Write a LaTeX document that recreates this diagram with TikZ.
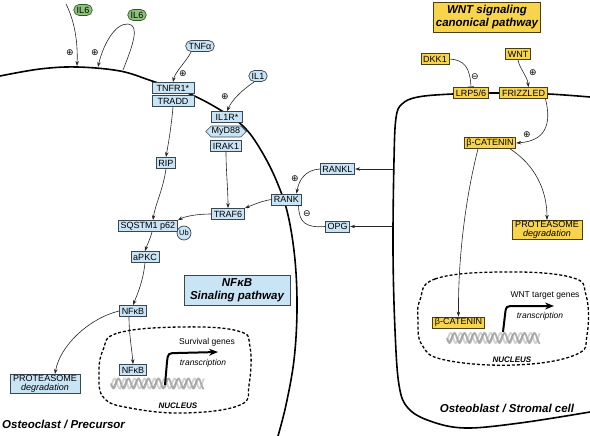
\documentclass[tikz,border=0pt]{standalone}
\usepackage{fontspec}
\setmainfont{Liberation Sans}
\newfontfamily\symfont{DejaVu Sans}
\usetikzlibrary{arrows.meta,shapes.misc,shapes.symbols,calc}
\definecolor{bfill}{HTML}{C9E4F5}
\definecolor{bdraw}{HTML}{3A4650}
\definecolor{yfill}{HTML}{F8D44C}
\definecolor{ydraw}{HTML}{4A3D10}
\definecolor{gfill}{HTML}{8CC27A}
\definecolor{gdraw}{HTML}{2E5A28}
\begin{document}
\begin{tikzpicture}[x=1pt,y=-1pt,
  font=\fontsize{9}{9.5}\selectfont,
  bbox/.style={draw=bdraw,fill=bfill,line width=0.7pt,inner xsep=2.3pt,inner ysep=0.8pt,minimum height=11pt},
  ybox/.style={draw=ydraw,fill=yfill,line width=0.7pt,inner xsep=2.3pt,inner ysep=0.8pt,minimum height=11pt},
  gpill/.style={rounded rectangle,draw=gdraw,fill=gfill,line width=0.7pt,inner xsep=2pt,inner ysep=0.8pt,minimum height=11pt},
  bpill/.style={rounded rectangle,draw=bdraw,fill=bfill,line width=0.7pt,inner xsep=2pt,inner ysep=0.8pt,minimum height=11pt},
  arr/.style={-{Stealth[length=5pt,width=3.5pt]},line width=0.6pt,draw=black!85},
  inh/.style={-{Bar[width=6pt]},line width=0.6pt,draw=black!85},
  membrane/.style={line width=1.6pt},
  nucl/.style={line width=1.3pt,dash pattern=on 3pt off 2pt},
  sym/.style={font=\symfont\fontsize{9}{9}\selectfont,inner sep=0pt},
  tlabel/.style={font=\fontsize{8.5}{9}\selectfont\itshape,inner sep=0pt},
  plabel/.style={font=\fontsize{8.5}{9}\selectfont,inner sep=0pt},
  nlabel/.style={font=\fontsize{8}{9}\selectfont\bfseries\itshape,inner sep=0pt},
  cellname/.style={font=\fontsize{11.5}{13}\selectfont\bfseries\itshape,inner sep=0pt},
  titlebox/.style={minimum width=106pt,minimum height=30pt,font=\fontsize{11.5}{12.5}\selectfont\bfseries\itshape,align=center},
  txarrow/.style={line width=2pt,-{Stealth[length=9pt,width=7pt]}},
  dna/.pic={
    \draw[gray!35,line width=1.8pt] plot[domain=0:93,samples=160,smooth] (\x,{5*sin(\x*36+140)});
    \draw[gray!65,line width=1.8pt] plot[domain=0:93,samples=160,smooth] (\x,{5*sin(\x*36)});
    \foreach \k in {0,...,8} \draw[gray!80,line width=0.5pt] ({\k*10+2},4) -- ({\k*10+6},-4);
  }
]
\useasboundingbox (0,0) rectangle (590,436);

% membranes
\draw[membrane] plot[smooth,tension=0.6] coordinates {(0,76) (40,69) (77,67) (120,71) (152,81) (190,94) (222,111) (245,128) (262,152) (277,182) (288,215) (295,260) (297,310) (294,360) (286,405) (278,436)};
\draw[membrane] plot[smooth,tension=0.6] coordinates {(590,97) (548,94) (500,93) (453,94) (418,97) (402,104) (396,118) (394,160) (393,250) (395,330) (399,385) (408,408) (430,421) (465,428) (520,423) (590,412)};

% nuclei
\draw[nucl] plot[smooth cycle,tension=0.7] coordinates {(103,350) (118,333) (180,327) (238,331) (250,347) (249,385) (240,405) (185,413) (130,408) (104,398) (99,375)};
\draw[nucl] plot[smooth cycle,tension=0.7] coordinates {(420,300) (435,279) (500,272) (570,277) (586,295) (587,335) (575,355) (515,365) (445,360) (422,345) (418,320)};

% DNA
\pic at (111,383.5) {dna};
\pic at (447,338) {dna};

% left cell nodes
\node[gpill] (il6a) at (83,10) {IL6};
\node[gpill] (il6b) at (137,15) {IL6};
\node[bpill] (tnfa) at (200,46) {TNFα};
\node[bpill] (il1) at (258,76) {IL1};
\node[bbox,minimum width=42pt] (tnfr) at (173,88) {TNFR1*};
\node[bbox,minimum width=42pt] (tradd) at (173,101) {TRADD};
\node[bbox,minimum width=31pt] (il1r) at (227,117) {IL1R*};
\node[bbox,signal,signal to=west and east,minimum width=37pt,inner xsep=0.5pt] (myd) at (226,131.5) {MyD88};
\node[bbox,minimum width=31pt] (irak) at (226,146) {IRAK1};
\node[bbox] (rip) at (166,163) {RIP};
\node[bbox] (traf6) at (228,214) {TRAF6};
\node[bbox] (rank) at (286.5,199.5) {RANK};
\node[bbox] (rankl) at (337.5,169) {RANKL};
\node[bbox] (opg) at (337.5,226.5) {OPG};
\node[bbox] (sqstm) at (148,226) {SQSTM1 p62};
\node[circle,draw=bdraw,fill=bfill,line width=0.7pt,inner sep=0.3pt,minimum size=14pt,font=\fontsize{7.5}{7.5}\selectfont] (ub) at (184,233) {Ub};
\node[bbox] (apkc) at (145,257) {aPKC};
\node[bbox] (nfkb) at (133,311) {NFκB};
\node[bbox] (nfkbin) at (133,370) {NFκB};
\node[bbox,titlebox] (nftitle) at (237,290) {NFκB\\Sinaling pathway};
\node[bbox,align=center,minimum width=70pt] (protl) at (45,384) {PROTEASOME\\{\itshape degradation}};

% right cell nodes
\node[ybox,titlebox] (wnttitle) at (487,17) {WNT signaling\\canonical pathway};
\node[ybox] (dkk1) at (435,59) {DKK1};
\node[ybox] (wnt) at (518,54) {WNT};
\node[ybox] (lrp) at (471,93) {LRP5/6};
\node[ybox] (friz) at (523.5,93) {FRIZZLED};
\node[ybox] (bcat) at (490,143) {β-CATENIN};
\node[ybox,align=center,minimum width=70pt] (protr) at (547,230) {PROTEASOME\\{\itshape degradation}};
\node[ybox] (bcatin) at (458.5,322.5) {β-CATENIN};

% texts
\node[cellname,anchor=west] (ocl) at (2,424) {Osteoclast / Precursor};
\node[cellname] (obl) at (507,408) {Osteoblast / Stromal cell};
\node[plabel] (surv) at (207,342) {Survival genes};
\node[tlabel] (trl) at (203,363) {transcription};
\node[nlabel] (nucll) at (178,406) {NUCLEUS};
\node[plabel] (wtg) at (545,295) {WNT target genes};
\node[tlabel] (trr) at (540,316) {transcription};
\node[nlabel] (nuclr) at (512,360) {NUCLEUS};

% signs
\node[sym] (s1) at (70,53) {⊕};
\node[sym] (s2) at (95,53) {⊕};
\node[sym] (s3) at (183,74) {⊕};
\node[sym] (s4) at (225,97) {⊕};
\node[sym] (s5) at (295,179) {⊕};
\node[sym] (s6) at (307,214) {⊖};
\node[sym] (s7) at (475,77) {⊖};
\node[sym] (s8) at (533,73) {⊕};
\node[sym] (s9) at (527,135) {⊕};

% free coordinates
\coordinate (il6src) at (66,4);
\coordinate (m1) at (77,66);
\coordinate (m2) at (123,70);
\coordinate (m3) at (98,67);
\coordinate (c1) at (393,169);
\coordinate (c2) at (393,226.5);
\coordinate (txl0) at (165,385);
\coordinate (txl1) at (218,352);
\coordinate (txr0) at (503,332);
\coordinate (txr1) at (554,306);

% connectors left
\draw[arr] (il6src) .. controls (74,20) and (78,40) .. (m1);
\draw[arr] (m2) .. controls (133,45) and (140,25) .. (128,24) .. controls (115,23) and (103,45) .. (m3);
\draw[arr] (tnfa.south west) .. controls (186,62) and (175,72) .. (tnfr.north);
\draw[arr] (il1.south west) .. controls (242,90) and (232,100) .. (il1r.north);
\draw[arr] (tradd.south) .. controls (171,130) and (168,145) .. (rip.north);
\draw[arr] (rip.south) .. controls (163,190) and (155,205) .. ($(sqstm.north)+(5,0)$);
\draw[arr] (irak.south) .. controls (226,170) and (228,190) .. (traf6.north);
\draw[arr] (rank.west) .. controls (262,201) and (255,204) .. (traf6.north east);
\draw[arr] (traf6.west) .. controls (198,214) and (186,216) .. (sqstm.north east);
\draw[arr] ($(sqstm.south)+(4,0)$) .. controls (150,240) and (147,245) .. (apkc.north);
\draw[arr] (apkc.south) .. controls (143,282) and (137,295) .. (nfkb.north);
\draw[arr] (nfkb.west) .. controls (90,318) and (60,345) .. ($(protl.north)+(10,0)$);
\draw[arr] ($(nfkb.south)+(-4,0)$) .. controls (129,335) and (132,350) .. (nfkbin.north);
\draw[arr] (rankl.west) .. controls (305,170) and (299,180) .. ($(rank.north)+(10,0)$);
\draw[inh] (opg.west) .. controls (305,228) and (299,222) .. ($(rank.south)+(12,0)$);
\draw[arr] (c1) -- (rankl.east);
\draw[arr] (c2) -- (opg.east);

% connectors right
\draw[inh] (dkk1.east) .. controls (465,60) and (470,68) .. (lrp.north);
\draw[arr] (wnt.south) .. controls (520,70) and (527,75) .. ($(friz.north)+(5,0)$);
\draw[arr] ($(friz.south)+(22,0)$) .. controls (552,125) and (545,141) .. (bcat.east);
\draw[arr] ($(bcat.south)+(20,0)$) .. controls (535,165) and (547,190) .. (protr.north);
\draw[arr] ($(bcat.south)+(-12,0)$) .. controls (465,200) and (458,260) .. (bcatin.north);

% transcription arrows
\draw[txarrow] (txl0) -- (167,362) .. controls (168,353) .. (178,353) -- (txl1);
\draw[txarrow] (txr0) -- (505,315) .. controls (506,306) .. (515,306) -- (txr1);
\end{tikzpicture}
\end{document}
